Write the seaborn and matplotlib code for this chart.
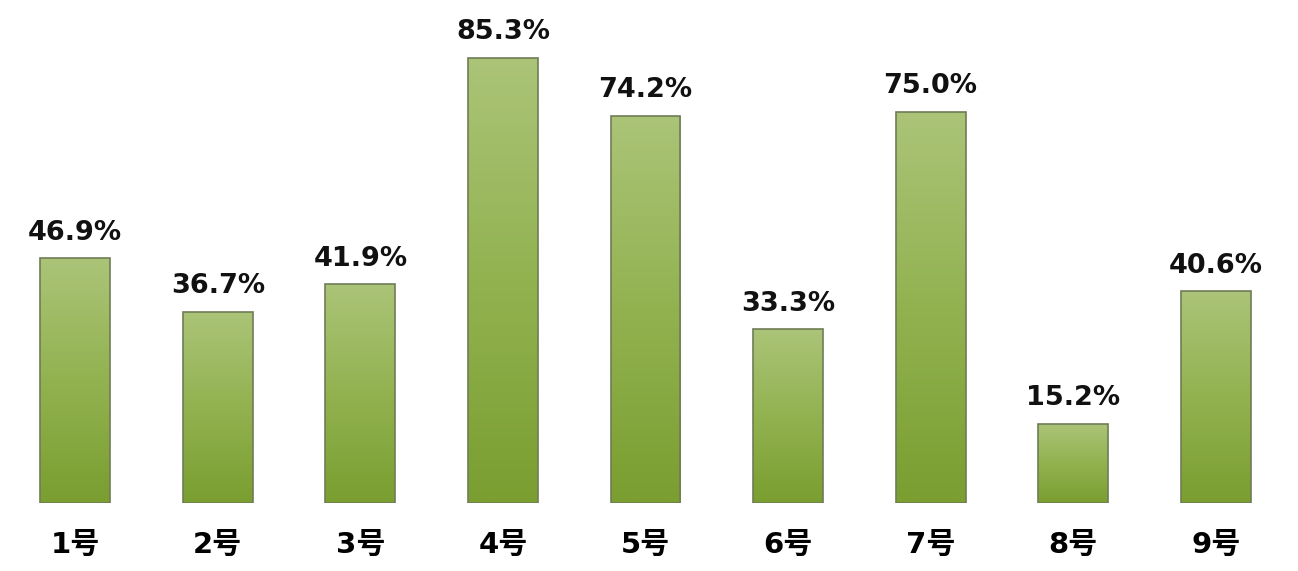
import numpy as np
import pandas as pd
import matplotlib
matplotlib.use("Agg")
import matplotlib.pyplot as plt
import seaborn as sns
from matplotlib.colors import LinearSegmentedColormap

categories = ["1号", "2号", "3号", "4号", "5号", "6号", "7号", "8号", "9号"]
values = [46.9, 36.7, 41.9, 85.3, 74.2, 33.3, 75.0, 15.2, 40.6]
labels = ["46.9%", "36.7%", "41.9%", "85.3%", "74.2%", "33.3%", "75.0%", "15.2%", "40.6%"]

df = pd.DataFrame({"name": categories, "value": values})

sns.set_style("white")
plt.rcParams['font.family'] = ['DejaVu Sans', 'Noto Sans CJK SC']

fig = plt.figure(figsize=(12.98, 5.71), dpi=100)
ax = fig.add_axes([4 / 1298, 68 / 571, 1283 / 1298, 503 / 571])

sns.barplot(data=df, x="name", y="value", color="#8fb050", width=0.49,
            edgecolor="#6e7d55", linewidth=1.2, ax=ax)

ax.set_xlim(-0.5, 8.5)
ax.set_ylim(0, 96.4)

# 막대마다 세로 그라데이션 (위는 밝게, 아래는 진하게)
cmap = LinearSegmentedColormap.from_list("g", ["#7a9e30", "#92b250", "#abc478"])
grad = np.linspace(0, 1, 256).reshape(-1, 1)
for p in ax.patches:
    x0, y0 = p.get_x(), p.get_y()
    w, h = p.get_width(), p.get_height()
    im = ax.imshow(grad, cmap=cmap, aspect="auto", origin="lower",
                   extent=[x0, x0 + w, y0, y0 + h], zorder=p.get_zorder() + 0.1)
    im.set_clip_path(p)
    p.set_facecolor("none")
    p.set_zorder(p.get_zorder() + 0.2)

for p, lab in zip(ax.patches, labels):
    ax.annotate(lab, (p.get_x() + p.get_width() / 2, p.get_height()),
                xytext=(0, 9), textcoords="offset points",
                ha="center", va="bottom", fontsize=19.5, fontweight="bold",
                color="#111111")

ax.set_xticks(range(len(categories)))
ax.set_xticklabels(categories, fontsize=21, fontweight="bold", color="black",
                   family=['DejaVu Sans', 'Noto Sans CJK SC'])
ax.tick_params(axis="x", length=0, pad=20)
ax.set_yticks([])
ax.set_xlabel("")
ax.set_ylabel("")
sns.despine(ax=ax, left=True, bottom=True)

fig.savefig("out.png", dpi=100, facecolor="white")
